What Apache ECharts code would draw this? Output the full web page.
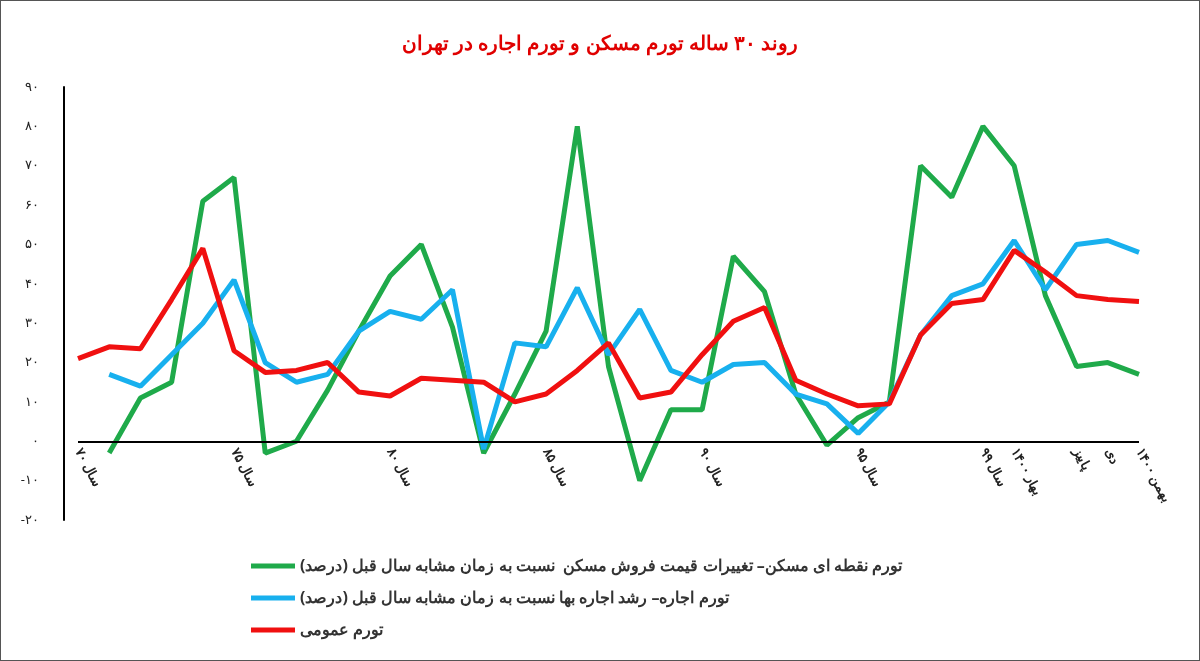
<!DOCTYPE html>
<html><head><meta charset="utf-8">
<script src="https://cdn.jsdelivr.net/npm/echarts@6/dist/echarts.min.js"></script>
<style>html,body{margin:0;padding:0;background:#fff}#c{width:1200px;height:661px;box-sizing:border-box;border:1px solid #555}</style>
</head><body><div id="c"></div>
<script>
const categories = Array.from({length:35},(_,i)=>String(i));
const tickLabels = {0:'سال ۷۰',5:'سال ۷۵',10:'سال ۸۰',15:'سال ۸۵',20:'سال ۹۰',25:'سال ۹۵',29:'سال ۹۹',30:'بهار ۱۴۰۰',32:'پاییز',33:'دی',34:'بهمن ۱۴۰۰'};
const housing = [null,-3,11,15,61,67,-3,0,13,28,42,50,29,-3,12,28,80,19,-10,8,8,47,38,12,-1,6,10,70,62,80,70,37,19,20,17];
const rent = [null,17,14,22,30,41,20,15,17,28,33,31,38.5,-2,25,24,39,22,33.5,18,15,19.5,20,12,9.5,2,10,27,37,40,51,38.5,50,51,48];
const general = [21,24,23.5,36,49,23,17.5,18,20,12.5,11.5,16,15.5,15,10,12,18,25,11,12.5,22,30.5,34,15.5,12,9,9.5,27,35,36,48.5,43,37,36,35.5];
const names = ['تورم نقطه ای مسکن– تغییرات قیمت فروش مسکن  نسبت به زمان مشابه سال قبل (درصد)','تورم اجاره– رشد اجاره بها نسبت به زمان مشابه سال قبل (درصد)','تورم عمومی'];
const fa = n => String(n).replace(/\d/g,d=>'۰۱۲۳۴۵۶۷۸۹'[d]);
const chart = echarts.init(document.getElementById('c'));
const ser = (name,data,color)=>({name,type:'line',data,symbol:'none',lineStyle:{width:5,color},itemStyle:{color},connectNulls:false});
const s0 = ser(names[0],housing,'#1faa4a');
s0.markLine = {silent:true,symbol:'none',label:{show:false},lineStyle:{color:'#000',width:2,type:'solid'},data:[{yAxis:0}]};
chart.setOption({
  animation:false,
  title:{text:'روند ۳۰ ساله تورم مسکن و تورم اجاره در تهران',left:'center',top:28,textStyle:{color:'#e00000',fontSize:20,fontWeight:'bold',fontFamily:'Noto Sans'}},
  grid:{left:77,right:60,top:86,bottom:140},
  legend:{orient:'vertical',left:245,top:552,itemGap:16,itemWidth:44,itemHeight:5,icon:'rect',textStyle:{fontSize:16,fontWeight:'bold',color:'#333',fontFamily:'Noto Sans'},data:names},
  xAxis:{type:'category',data:categories,boundaryGap:false,offset:-79,axisLine:{show:false},axisTick:{show:false},
    axisLabel:{interval:0,rotate:-62,fontSize:13,fontWeight:'bold',color:'#222',fontFamily:'Noto Sans',formatter:v=>tickLabels[v]||''}},
  yAxis:{type:'value',min:-20,max:90,interval:10,offset:14,splitLine:{show:false},axisLine:{show:true,lineStyle:{color:'#000',width:2}},
    axisLabel:{fontSize:13,color:'#222',margin:25,fontFamily:'Noto Sans',formatter:v=>v<0?'-'+fa(-v):fa(v)}},
  series:[s0,ser(names[1],rent,'#18b0ee'),ser(names[2],general,'#f01010')]
});
</script></body></html>
